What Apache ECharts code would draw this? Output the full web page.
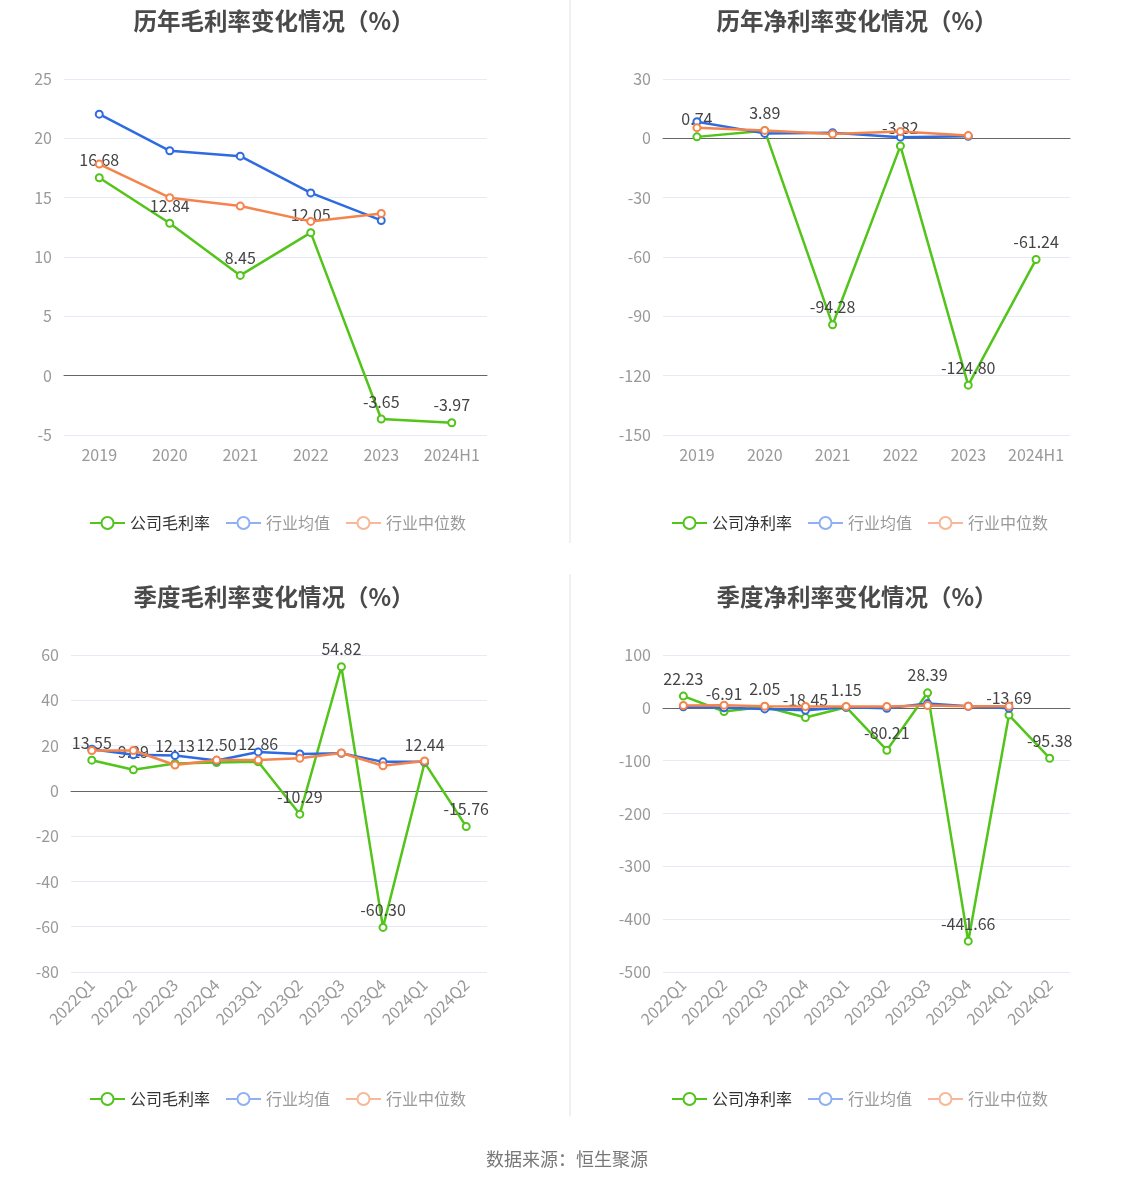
<!DOCTYPE html>
<html>
<head>
<meta charset="utf-8">
<title>毛利率/净利率变化情况</title>
<script src="https://cdn.jsdelivr.net/npm/echarts@6/dist/echarts.min.js"></script>
<style>
  html, body { margin: 0; padding: 0; background: #fff; }
  #main { width: 1134px; height: 1188px; }
</style>
</head>
<body>
<div id="main"></div>
<script>
// 年度数据
var yearCats = ['2019', '2020', '2021', '2022', '2023', '2024H1'];
var yearGross = [16.68, 12.84, 8.45, 12.05, -3.65, -3.97];
var yearGrossAvg = [22.04, 18.95, 18.5, 15.4, 13.08, '-'];
var yearGrossMid = [17.83, 15.0, 14.29, 13.0, 13.67, '-'];
var yearNet = [0.74, 3.89, -94.28, -3.82, -124.80, -61.24];
var yearNetAvg = [8.4, 2.5, 2.8, 0.6, 1.0, '-'];
var yearNetMid = [5.4, 4.0, 2.2, 3.4, 1.4, '-'];

// 季度数据
var quarterCats = ['2022Q1', '2022Q2', '2022Q3', '2022Q4', '2023Q1', '2023Q2', '2023Q3', '2023Q4', '2024Q1', '2024Q2'];
var quarterGross = [13.55, 9.29, 12.13, 12.50, 12.86, -10.29, 54.82, -60.30, 12.44, -15.76];
var quarterGrossAvg = [18.4, 15.9, 15.6, 13.4, 17.2, 16.3, 16.6, 12.8, 12.9, '-'];
var quarterGrossMid = [17.8, 17.8, 11.4, 13.6, 13.6, 14.4, 16.7, 11.1, 13.2, '-'];
var quarterNet = [22.23, -6.91, 2.05, -18.45, 1.15, -80.21, 28.39, -441.66, -13.69, -95.38];
var quarterNetAvg = [2, 0, -2, -4.5, 1, -1, 8, 3, -1, '-'];
var quarterNetMid = [4.4, 5, 3, 2.5, 2.5, 2.5, 4.4, 3, 3, '-'];

var titles = ['历年毛利率变化情况（%）', '历年净利率变化情况（%）', '季度毛利率变化情况（%）', '季度净利率变化情况（%）'];
var companyNames = ['公司毛利率', '公司净利率', '公司毛利率', '公司净利率'];
var yMin = [-5, -150, -80, -500];
var yMax = [25, 30, 60, 100];
var yStep = [5, 30, 20, 100];

var GREEN = '#52c41a', BLUE = '#2f6be0', ORANGE = '#f5844c';
var FONT = '"Noto Sans CJK SC", "Noto Sans", sans-serif';

var panels = [
    {cats: yearCats, s: [yearGross, yearGrossAvg, yearGrossMid], grid: {left: 64, right: 647, top: 79, bottom: 753}, tx: 269, ty: 4, lx: 84, ly: 510, rotate: 0},
    {cats: yearCats, s: [yearNet, yearNetAvg, yearNetMid], grid: {left: 663, right: 64, top: 79, bottom: 753}, tx: 852, ty: 4, lx: 666, ly: 510, rotate: 0},
    {cats: quarterCats, s: [quarterGross, quarterGrossAvg, quarterGrossMid], grid: {left: 71, right: 647, top: 655, bottom: 216}, tx: 269, ty: 580, lx: 84, ly: 1086, rotate: 45},
    {cats: quarterCats, s: [quarterNet, quarterNetAvg, quarterNetMid], grid: {left: 663, right: 64, top: 655, bottom: 216}, tx: 852, ty: 580, lx: 666, ly: 1086, rotate: 45}
];

var option = {
    backgroundColor: '#fff',
    textStyle: {fontFamily: FONT},
    animation: false,
    title: [],
    legend: [],
    grid: [],
    xAxis: [],
    yAxis: [],
    series: [],
    graphic: [
        {type: 'line', shape: {x1: 570, y1: 0, x2: 570, y2: 543}, style: {stroke: '#f0f0f0', lineWidth: 2}},
        {type: 'line', shape: {x1: 570, y1: 574, x2: 570, y2: 1116}, style: {stroke: '#f0f0f0', lineWidth: 2}},
        {type: 'text', left: 'center', top: 1150, style: {text: '数据来源：恒生聚源', fill: '#777', fontSize: 18, fontFamily: FONT}}
    ]
};

for (var i = 0; i < panels.length; i++) {
    var p = panels[i];
    option.title.push({
        text: titles[i], left: p.tx, top: p.ty, textAlign: 'center',
        textStyle: {fontSize: 23.5, fontWeight: 'bold', color: '#4a4a4a', fontFamily: FONT}
    });
    option.legend.push({
        left: p.lx, top: p.ly, orient: 'horizontal',
        itemWidth: 35, itemHeight: 15, itemGap: 15,
        textStyle: {fontSize: 16, color: '#333', fontFamily: FONT},
        data: [
            {name: companyNames[i]},
            {name: '行业均值', itemStyle: {color: '#8fb1f3'}, lineStyle: {color: '#8fb1f3'}, textStyle: {color: '#999'}},
            {name: '行业中位数', itemStyle: {color: '#f9b797'}, lineStyle: {color: '#f9b797'}, textStyle: {color: '#999'}}
        ]
    });
    option.grid.push({left: p.grid.left, right: p.grid.right, top: p.grid.top, bottom: p.grid.bottom, containLabel: false});
    option.xAxis.push({
        type: 'category', gridIndex: i, data: p.cats, boundaryGap: true,
        axisLine: {onZero: true, lineStyle: {color: '#666'}},
        axisTick: {alignWithLabel: true, length: 6, lineStyle: {color: '#666'}},
        axisLabel: {color: '#999', fontSize: 16, interval: 0, rotate: p.rotate, margin: p.rotate ? 10 : 12}
    });
    option.yAxis.push({
        type: 'value', gridIndex: i, min: yMin[i], max: yMax[i], interval: yStep[i],
        axisLine: {show: false}, axisTick: {show: false},
        axisLabel: {color: '#999', fontSize: 16, margin: 12},
        splitLine: {lineStyle: {color: '#e6eaf5'}}
    });
    var names = [companyNames[i], '行业均值', '行业中位数'];
    var colors = [GREEN, BLUE, ORANGE];
    for (var k = 0; k < 3; k++) {
        option.series.push({
            name: names[k], type: 'line', xAxisIndex: i, yAxisIndex: i,
            data: p.s[k],
            symbol: 'emptyCircle', symbolSize: 7,
            lineStyle: {width: 2.5, color: colors[k]},
            itemStyle: {color: colors[k], borderWidth: 2},
            label: k === 0 ? {show: true, position: 'top', color: '#444', fontSize: 16, fontFamily: FONT,
                formatter: function (d) { return d.value.toFixed(2); }} : {show: false},
            z: 2 + k
        });
    }
}

var myChart = echarts.init(document.getElementById('main'));
myChart.setOption(option);
</script>
</body>
</html>
